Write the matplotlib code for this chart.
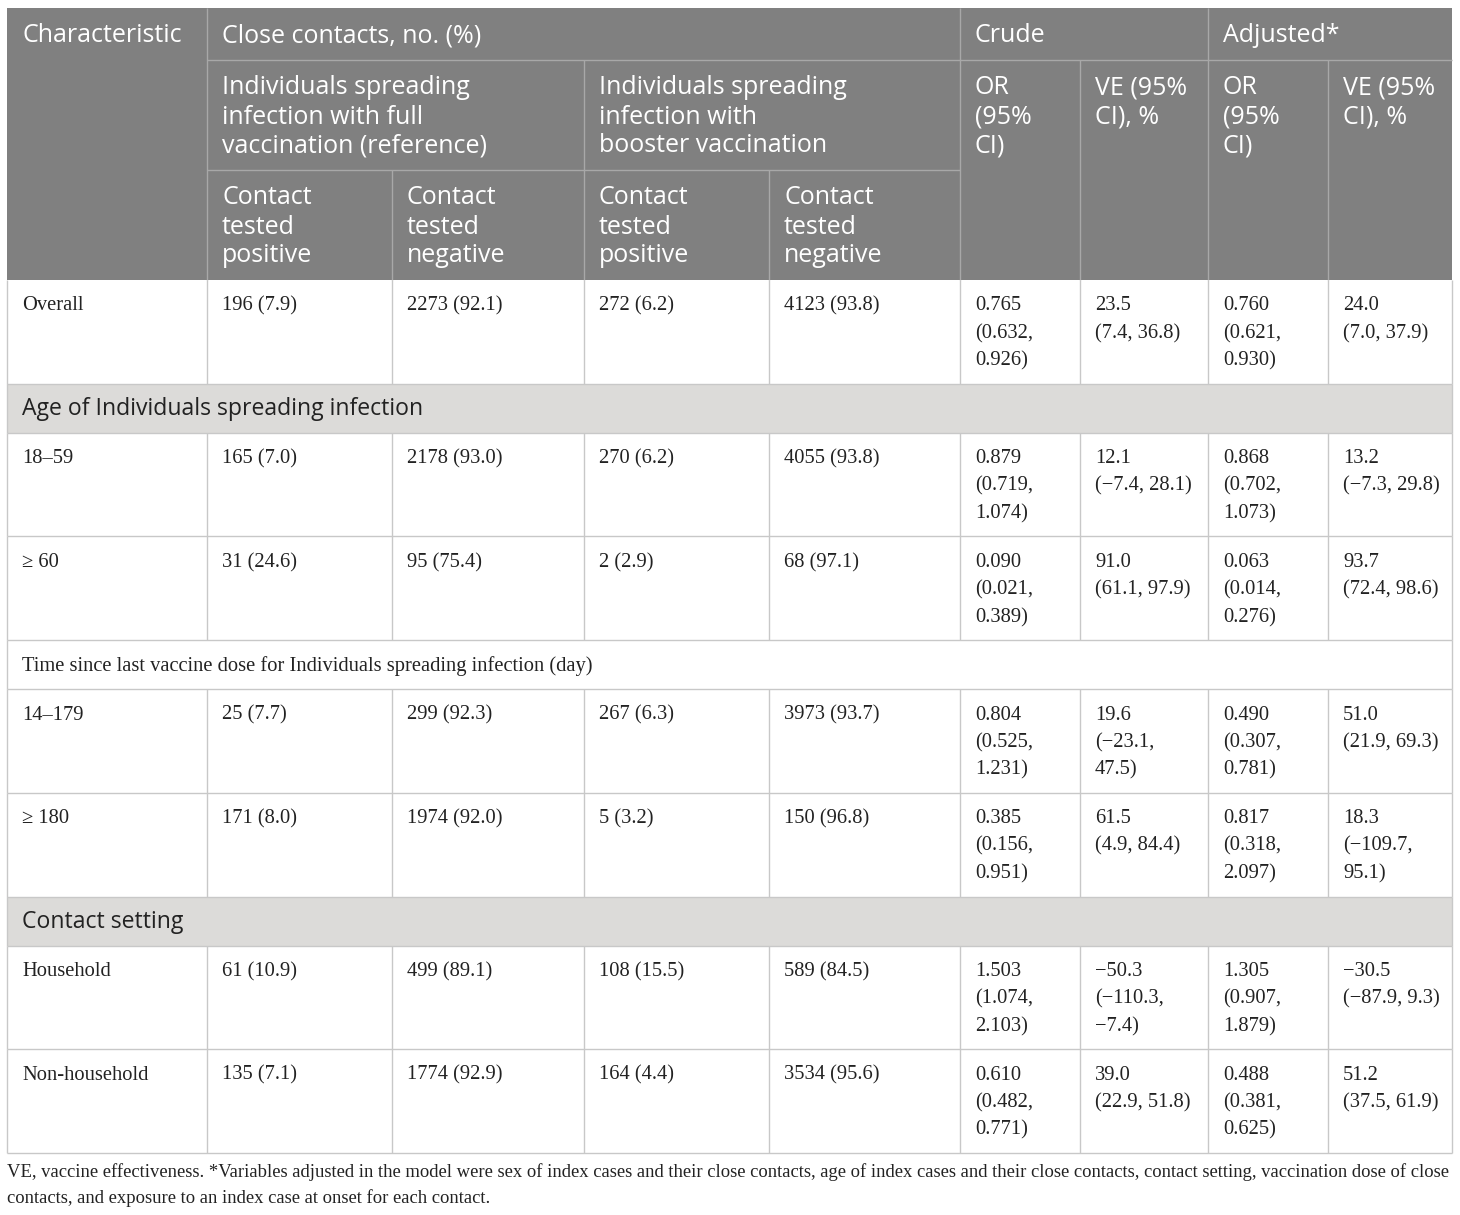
import matplotlib.pyplot as plt
from matplotlib.patches import Rectangle

# table content
characteristics = ['Overall', '18–59', '≥ 60', '14–179', '≥ 180', 'Household', 'Non-household']
full_pos = ['196 (7.9)', '165 (7.0)', '31 (24.6)', '25 (7.7)', '171 (8.0)', '61 (10.9)', '135 (7.1)']
full_neg = ['2273 (92.1)', '2178 (93.0)', '95 (75.4)', '299 (92.3)', '1974 (92.0)', '499 (89.1)', '1774 (92.9)']
boost_pos = ['272 (6.2)', '270 (6.2)', '2 (2.9)', '267 (6.3)', '5 (3.2)', '108 (15.5)', '164 (4.4)']
boost_neg = ['4123 (93.8)', '4055 (93.8)', '68 (97.1)', '3973 (93.7)', '150 (96.8)', '589 (84.5)', '3534 (95.6)']
crude_or = ['0.765\n(0.632,\n0.926)', '0.879\n(0.719,\n1.074)', '0.090\n(0.021,\n0.389)',
            '0.804\n(0.525,\n1.231)', '0.385\n(0.156,\n0.951)', '1.503\n(1.074,\n2.103)',
            '0.610\n(0.482,\n0.771)']
crude_ve = ['23.5\n(7.4, 36.8)', '12.1\n(−7.4, 28.1)', '91.0\n(61.1, 97.9)', '19.6\n(−23.1,\n47.5)',
            '61.5\n(4.9, 84.4)', '−50.3\n(−110.3,\n−7.4)', '39.0\n(22.9, 51.8)']
adj_or = ['0.760\n(0.621,\n0.930)', '0.868\n(0.702,\n1.073)', '0.063\n(0.014,\n0.276)',
          '0.490\n(0.307,\n0.781)', '0.817\n(0.318,\n2.097)', '1.305\n(0.907,\n1.879)',
          '0.488\n(0.381,\n0.625)']
adj_ve = ['24.0\n(7.0, 37.9)', '13.2\n(−7.3, 29.8)', '93.7\n(72.4, 98.6)', '51.0\n(21.9, 69.3)',
          '18.3\n(−109.7,\n95.1)', '−30.5\n(−87.9, 9.3)', '51.2\n(37.5, 61.9)']

# row layout: ('data', index) or ('section', text, shaded)
rows = [('data', 0),
        ('section', 'Age of Individuals spreading infection', True),
        ('data', 1), ('data', 2),
        ('section', 'Time since last vaccine dose for Individuals spreading infection (day)', False),
        ('data', 3), ('data', 4),
        ('section', 'Contact setting', True),
        ('data', 5), ('data', 6)]

footnote = ('VE, vaccine effectiveness. *Variables adjusted in the model were sex of index cases and their close contacts, '
            'age of index cases and their close contacts, contact setting, vaccination dose of close\n'
            'contacts, and exposure to an index case at onset for each contact.')

col_x = [7, 207, 392, 584, 769, 960, 1080, 1208, 1328, 1452]
W, H = 1460, 1215
HEAD_BG = '#808080'
HEAD_LINE = '#a8a8a8'
GRID = '#c8c8c8'
SEC_BG = '#dcdbd9'
TXT = '#222222'
SANS = ['Open Sans', 'DejaVu Sans']
SERIF = ['Liberation Serif', 'DejaVu Serif']
HEAD_FS = 25 * 72 / 100
BODY_FS = 20.5 * 72 / 100
SEC_FS = 23 * 72 / 100

fig = plt.figure(figsize=(W / 100, H / 100), dpi=100)
ax = fig.add_axes([0, 0, 1, 1])
ax.set_xlim(0, W)
ax.set_ylim(H, 0)
ax.axis('off')


def put(x, y0, text, step, **kw):
    for i, line in enumerate(text.split('\n')):
        ax.text(x, y0 + i * step, line, va='center', ha='left', **kw)


def hline(x0, x1, y, c, lw=1.0):
    ax.plot([x0, x1], [y, y], color=c, lw=lw, solid_capstyle='butt')


def vline(x, y0, y1, c, lw=1.0):
    ax.plot([x, x], [y0, y1], color=c, lw=lw, solid_capstyle='butt')


# header
top, h1, h2, h3 = 8, 60, 170, 280
ax.add_patch(Rectangle((col_x[0], top), col_x[-1] - col_x[0], h3 - top, color=HEAD_BG, lw=0))
hline(col_x[1], col_x[-1], h1, HEAD_LINE)
hline(col_x[1], col_x[5], h2, HEAD_LINE)
for x in [col_x[1], col_x[5], col_x[7]]:
    vline(x, top, h3, HEAD_LINE)
for x in [col_x[3], col_x[6], col_x[8]]:
    vline(x, h1, h3, HEAD_LINE)
for x in [col_x[2], col_x[4]]:
    vline(x, h2, h3, HEAD_LINE)

hstep = 29
hoff = 28
hkw = dict(color='white', fontsize=HEAD_FS, family=SANS)
put(col_x[0] + 15, top + hoff, 'Characteristic', hstep, **hkw)
put(col_x[1] + 15, top + hoff, 'Close contacts, no. (%)', hstep, **hkw)
put(col_x[5] + 15, top + hoff, 'Crude', hstep, **hkw)
put(col_x[7] + 15, top + hoff, 'Adjusted*', hstep, **hkw)
put(col_x[1] + 15, h1 + hoff, 'Individuals spreading\ninfection with full\nvaccination (reference)', hstep, **hkw)
put(col_x[3] + 15, h1 + hoff, 'Individuals spreading\ninfection with\nbooster vaccination', hstep, **hkw)
for k, lab in zip([5, 6, 7, 8], ['OR\n(95%\nCI)', 'VE (95%\nCI), %', 'OR\n(95%\nCI)', 'VE (95%\nCI), %']):
    put(col_x[k] + 15, h1 + hoff, lab, hstep, **hkw)
for k, lab in zip([1, 2, 3, 4], ['Contact\ntested\npositive', 'Contact\ntested\nnegative',
                                 'Contact\ntested\npositive', 'Contact\ntested\nnegative']):
    put(col_x[k] + 15, h2 + hoff, lab, hstep, **hkw)

# body
data_h, sec_h = 103.7, 49
bkw = dict(color=TXT, fontsize=BODY_FS, family=SERIF)
columns = [characteristics, full_pos, full_neg, boost_pos, boost_neg, crude_or, crude_ve, adj_or, adj_ve]
y = h3
for r in rows:
    if r[0] == 'data':
        i = r[1]
        for k, col in enumerate(columns):
            put(col_x[k] + 15, y + 26, col[i], 27.5, **bkw)
        for x in col_x:
            vline(x, y, y + data_h, GRID)
        y_next = y + data_h
    else:
        if r[2]:
            ax.add_patch(Rectangle((col_x[0], y), col_x[-1] - col_x[0], sec_h, color=SEC_BG, lw=0))
            put(col_x[0] + 15, y + sec_h / 2 + 1, r[1], 27, color=TXT, fontsize=SEC_FS, family=SANS)
        else:
            put(col_x[0] + 15, y + sec_h / 2 + 1, r[1], 27, **bkw)
        vline(col_x[0], y, y + sec_h, GRID)
        vline(col_x[-1], y, y + sec_h, GRID)
        y_next = y + sec_h
    hline(col_x[0], col_x[-1], y_next, GRID)
    y = y_next

put(col_x[0], 1172, footnote, 26, color=TXT, fontsize=18.6 * 72 / 100, family=SERIF)

fig.savefig('out.png', dpi=100, facecolor='white')
